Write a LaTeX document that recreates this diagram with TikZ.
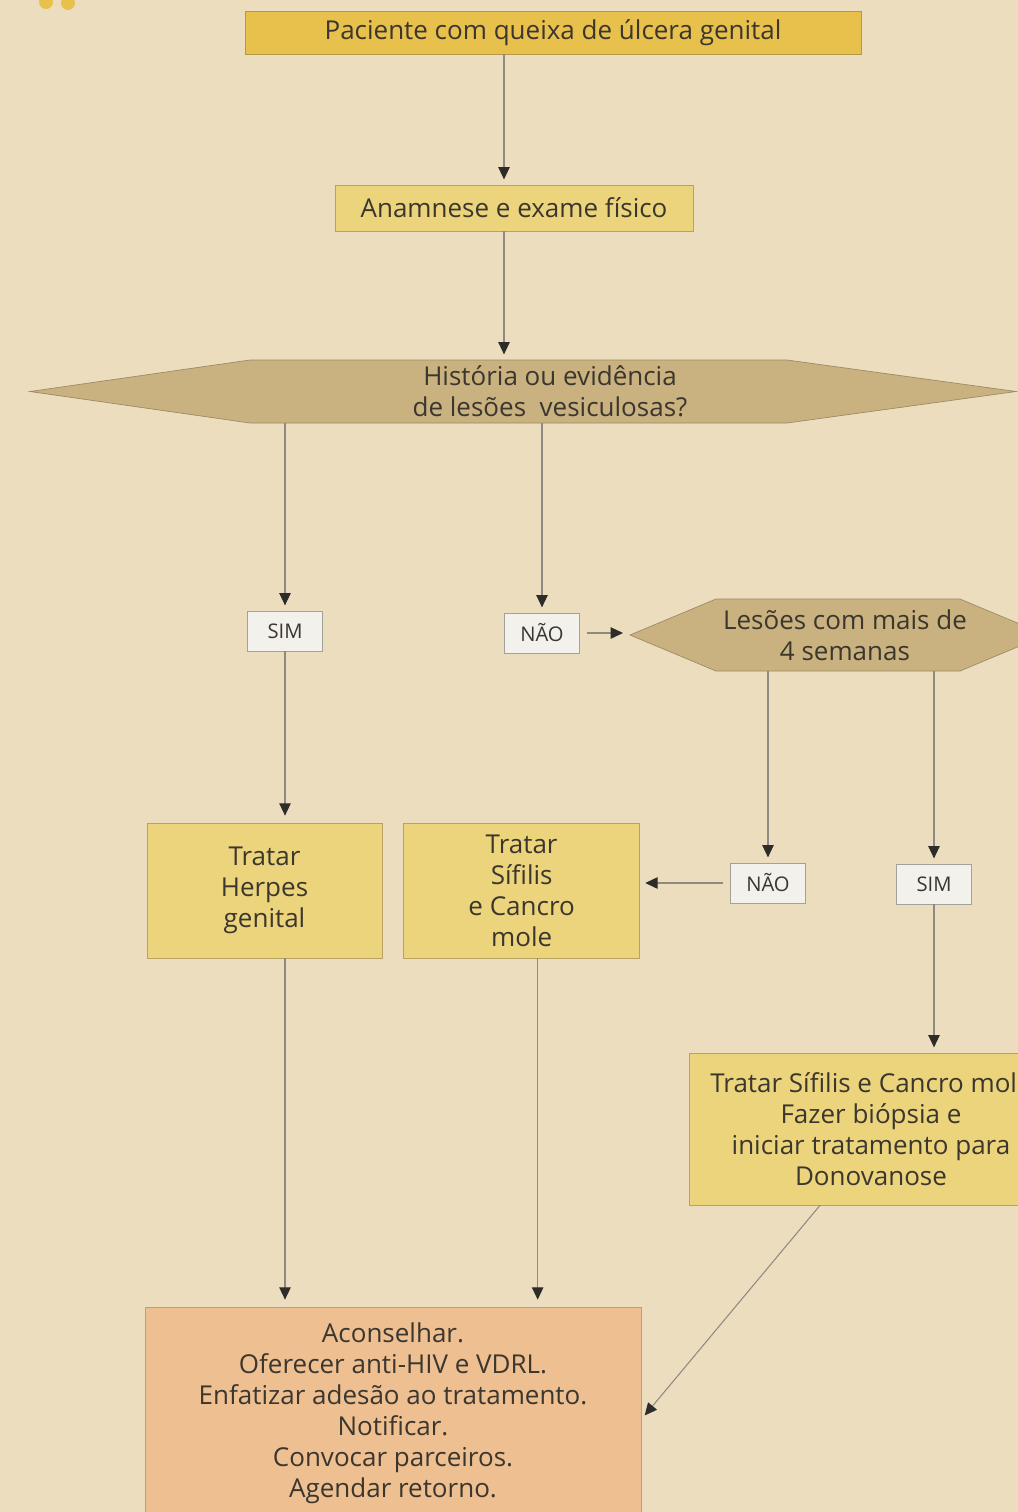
\documentclass[tikz,border=0pt]{standalone}
\usepackage{fontspec}
\setmainfont{Open Sans}
\usetikzlibrary{arrows.meta, positioning, calc}
\definecolor{fundo}{HTML}{EBDDBE}
\definecolor{ouro}{HTML}{E8C04C}
\definecolor{ourobordo}{HTML}{B39A4A}
\definecolor{amarelo}{HTML}{ECD47C}
\definecolor{amarelobordo}{HTML}{B8A262}
\definecolor{caqui}{HTML}{C9B27F}
\definecolor{caquibordo}{HTML}{9C8B66}
\definecolor{branco}{HTML}{F3F1EC}
\definecolor{cinza}{HTML}{A3A19C}
\definecolor{salmao}{HTML}{EDBF91}
\definecolor{salmaobordo}{HTML}{C29C78}
\definecolor{texto}{HTML}{3B362E}
\definecolor{linha}{HTML}{8E8A82}
\definecolor{ponta}{HTML}{2E2C29}
\newcommand{\fontefluxo}{\fontsize{14.8}{17.6}\selectfont}
\newcommand{\fonterotulo}{\fontsize{11.5}{14}\selectfont}
\tikzset{
  caixa/.style={rectangle, draw=amarelobordo, fill=amarelo, thin,
    align=center, text=texto, font=\fontefluxo},
  rotulo/.style={rectangle, draw=cinza, fill=branco, thin,
    minimum width=1.5cm, minimum height=0.8cm, text=texto, font=\fonterotulo},
  pergunta/.style={inner sep=0pt, align=center, text=texto, font=\fontefluxo},
  hexagono/.style={draw=caquibordo, fill=caqui, thin},
  seta/.style={draw=linha, line width=0.6pt,
    -{Triangle[length=7pt, width=6.5pt, color=ponta]}, shorten >=3pt}
}

\begin{document}
\begin{tikzpicture}[x=0.02cm, y=-0.02cm]

  \clip (0,0) rectangle (1018,1512);
  \fill[fundo] (0,0) rectangle (1018,1512);
  \fill[ouro] (46,2) circle (0.14cm) (68,3) circle (0.14cm);

  % --- Entrada ---
  \node[caixa, fill=ouro, draw=ourobordo, minimum width=12.32cm,
    minimum height=0.86cm] (queixa) at (553,32.5)
    {Paciente com queixa de úlcera genital};
  \node[caixa, minimum width=7.16cm, minimum height=0.92cm] (anamnese)
    at (514,208) {Anamnese e exame físico};

  % --- Primeira pergunta ---
  \fill[hexagono] (30,391.5) -- (250,360) -- (787,360) -- (1016,391.5)
    -- (787,423) -- (250,423) -- cycle;
  \node[pergunta, minimum height=1.26cm] (historia) at (550,391.5)
    {História ou evidência\\de lesões\ \ vesiculosas?};

  \node[rotulo] (sim) at (285,631) {SIM};
  \node[rotulo] (nao) at (542,633) {NÃO};

  % --- Segunda pergunta ---
  \coordinate (pontaesq) at (630,635);
  \fill[hexagono] (pontaesq) -- (716,599) -- (960,599) -- (1046,635)
    -- (960,671) -- (716,671) -- cycle;
  \node[pergunta, minimum height=1.44cm] (semanas) at (845,635)
    {Lesões com mais de\\4 semanas};

  \node[rotulo] (nao2) at (768,883) {NÃO};
  \node[rotulo] (sim2) at (934,884) {SIM};

  % --- Tratamentos ---
  \node[caixa, minimum width=4.7cm, minimum height=2.7cm] (herpes)
    at (264.5,890.5) {Tratar\\Herpes\\genital};
  \node[caixa, right=0.42cm of herpes, minimum width=4.72cm,
    minimum height=2.7cm] (sifilis) {Tratar\\Sífilis\\e Cancro\\mole};
  \node[caixa, minimum width=7.28cm, minimum height=3.04cm] (biopsia)
    at (871,1129) {Tratar Sífilis e Cancro mole\\Fazer biópsia e\\
    iniciar tratamento para\\Donovanose};

  % --- Conduta ---
  \node[caixa, fill=salmao, draw=salmaobordo, minimum width=9.92cm,
    minimum height=4.26cm] (conduta) at (393,1413.5)
    {Aconselhar.\\Oferecer anti-HIV e VDRL.\\Enfatizar adesão ao tratamento.\\
     Notificar.\\Convocar parceiros.\\Agendar retorno.};

  % --- Setas ---
  \draw[seta] ([xshift=-0.2cm]anamnese.north |- queixa.south)
    -- ([xshift=-0.2cm]anamnese.north);
  \draw[seta] ([xshift=-0.2cm]anamnese.south)
    -- ([xshift=-0.2cm]anamnese.south |- historia.north);
  \draw[seta] (sim.north |- historia.south) -- (sim.north);
  \draw[seta] (nao.north |- historia.south) -- (nao.north);
  \draw[seta, shorten <=4pt, shorten >=4pt] (nao.east) -- (nao.east -| pontaesq);
  \draw[seta] (nao2.north |- semanas.south) -- (nao2.north);
  \draw[seta] (sim2.north |- semanas.south) -- (sim2.north);
  \draw[seta, shorten >=4pt] (sim.south) -- (sim.south |- herpes.north);
  \draw[seta, shorten <=4pt] (nao2.west) -- (nao2.west -| sifilis.east);
  \draw[seta] (sim2.south) -- (sim2.south |- biopsia.north);
  \draw[seta, shorten >=4pt] (sim.south |- herpes.south)
    -- (sim.south |- conduta.north);
  \draw[seta, shorten >=4pt] ([xshift=0.32cm]sifilis.south)
    -- ([xshift=0.32cm]sifilis.south |- conduta.north);
  \draw[seta] ([xshift=-1.02cm]biopsia.south)
    -- ([yshift=-0.12cm]conduta.east);

\end{tikzpicture}
\end{document}
